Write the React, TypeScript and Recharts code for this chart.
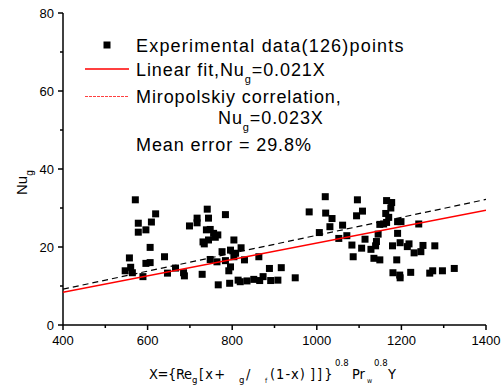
import { ScatterChart, Scatter, XAxis, YAxis } from 'recharts';

// experimental points
const X_VALS = [
  571, 619, 578, 609, 578, 596, 606, 557, 596, 606, 640, 547, 560, 564, 589, 647,
  666, 685, 687, 729, 699, 717, 717, 741, 744, 784, 739, 748, 731, 744, 756, 766,
  760, 734, 804, 776, 796, 808, 821, 804, 748, 764, 784, 829, 863, 796, 792, 888,
  916, 767, 794, 814, 819, 835, 851, 865, 873, 891, 908, 949, 982, 1006, 1020, 1021,
  1036, 1096, 1108, 1094, 1031, 1061, 1052, 1071, 1114, 1083, 1106, 1086, 1128, 1141, 1139, 1145,
  1149, 1135, 1149, 1165, 1177, 1175, 1163, 1170, 1165, 1158, 1191, 1199, 1191, 1241, 1179, 1197,
  1214, 1218, 1230, 1246, 1251, 1279, 1189, 1180, 1196, 1197, 1222, 1267, 1274, 1297, 1325,
];
const NU_VALS = [
  32.1, 28.5, 26.1, 26.4, 23.8, 24.4, 19.9, 17.2, 15.8, 16.0, 17.5, 13.9, 14.8, 13.4, 12.4, 13.3,
  14.6, 13.4, 12.6, 13.0, 25.4, 27.4, 26.2, 29.7, 27.4, 28.3, 24.4, 24.5, 21.3, 21.8, 23.5, 23.1,
  22.5, 20.8, 21.8, 18.8, 19.2, 18.4, 19.8, 17.5, 16.8, 16.2, 16.5, 16.7, 17.5, 14.9, 13.9, 14.5,
  14.7, 10.3, 10.7, 11.5, 11.1, 11.3, 11.7, 11.4, 12.4, 11.4, 11.5, 12.1, 29.0, 23.7, 32.9, 28.7,
  27.3, 32.1, 29.2, 28.0, 25.2, 25.6, 22.2, 22.9, 22.0, 20.5, 19.7, 17.5, 19.4, 21.4, 20.3, 23.3,
  25.8, 17.1, 16.7, 31.9, 31.4, 30.0, 28.6, 27.6, 26.3, 25.9, 26.5, 26.5, 23.5, 25.9, 20.3, 21.1,
  20.1, 20.8, 18.5, 18.8, 20.4, 20.3, 16.7, 13.4, 12.8, 12.1, 13.5, 13.3, 13.9, 13.9, 14.5,
];

const FIT_X = [400, 1400];
const LINEAR_FIT = [8.4, 29.4]; // Nu_g = 0.021X
const MIROPOLSKIY = [9.2, 32.2]; // Nu_g = 0.023X

const X_TICKS = [400, 500, 600, 700, 800, 900, 1000, 1100, 1200, 1300, 1400];
const Y_TICKS = [0, 10, 20, 30, 40, 50, 60, 70, 80];

const points = X_VALS.map((x, i) => ({ x, y: NU_VALS[i] }));
const linearData = FIT_X.map((x, i) => ({ x, y: LINEAR_FIT[i] }));
const miroData = FIT_X.map((x, i) => ({ x, y: MIROPOLSKIY[i] }));

const FONT = '"Liberation Sans", Arial, sans-serif';
const COND = '"DejaVu Sans Condensed", "DejaVu Sans", sans-serif';

const Square = (p: any) => (
  <rect x={p.cx - 3.5} y={p.cy - 3.5} width={7} height={7} fill="#000" />
);
const Nothing = () => <g />;

const XTick = ({ x, y, payload }: any) => {
  const major = payload.value % 200 === 0;
  return (
    <g>
      <line x1={x} x2={x} y1={y} y2={y + (major ? 5 : 3)} stroke="#000" strokeWidth={1.5} />
      {major && (
        <text x={x} y={y + 19.5} textAnchor="middle" fontSize={13} fontFamily={FONT} fill="#000">
          {payload.value}
        </text>
      )}
    </g>
  );
};

const YTick = ({ x, y, payload }: any) => {
  const major = payload.value % 20 === 0;
  return (
    <g>
      <line x1={x - (major ? 5 : 3)} x2={x} y1={y} y2={y} stroke="#000" strokeWidth={1.5} />
      {major && (
        <text x={x - 9} y={y + 4.5} textAnchor="end" fontSize={13} fontFamily={FONT} fill="#000">
          {payload.value}
        </text>
      )}
    </g>
  );
};

function Overlay() {
  const t = { fontFamily: FONT, fontSize: 18, letterSpacing: 0.9, fill: '#000' };
  const lab = { fontFamily: COND, fontSize: 14.5, fill: '#000' };
  const sub = { fontFamily: COND, fontSize: 9.5, fill: '#000' };
  return (
    <svg width={501} height={385} style={{ position: 'absolute', left: 0, top: 0, pointerEvents: 'none' }}>
      {/* legend */}
      <rect x={103.5} y={41.5} width={7} height={7} fill="#000" />
      <text x={136} y={52} {...t} letterSpacing={1.2}>Experimental data(126)points</text>
      <line x1={85} x2={129} y1={69} y2={69} stroke="#ff0000" strokeWidth={1.3} />
      <text x={136} y={75.5} {...t}>
        Linear fit,Nu<tspan fontSize={11} dy={7}>g</tspan>
        <tspan dy={-7}>=0.021X</tspan>
      </text>
      <line x1={85} x2={129} y1={96.5} y2={96.5} stroke="#ff4040" strokeWidth={1} strokeDasharray="3 1" />
      <text x={136} y={102.5} {...t}>Miropolskiy correlation,</text>
      <text x={218} y={123.5} {...t}>
        Nu<tspan fontSize={11} dy={7}>g</tspan>
        <tspan dy={-7}>=0.023X</tspan>
      </text>
      <text x={136} y={150.5} {...t}>Mean error = 29.8%</text>

      {/* y axis title */}
      <text x={27} y={195} transform="rotate(-90 27 195)" fontFamily={FONT} fontSize={15} fill="#000">
        Nu<tspan fontSize={10} dy={6}>g</tspan>
      </text>

      {/* x axis title */}
      <text y={379} {...lab}>
        <tspan x={149} letterSpacing={-0.4}>X={'{'}Re</tspan>
        <tspan x={192} dy={4} {...sub}>g</tspan>
        <tspan x={199} dy={-4} letterSpacing={1.2}>[x+</tspan>
        <tspan x={239} dy={4} {...sub}>g</tspan>
        <tspan x={246} dy={-4}>/</tspan>
        <tspan x={265} dy={4} fontSize={7}>f</tspan>
        <tspan x={270} dy={-4} letterSpacing={1}>(1-x)</tspan>
        <tspan x={310} letterSpacing={2}>]]{'}'}</tspan>
        <tspan x={335} dy={-13} {...sub}>0.8</tspan>
        <tspan x={352} dy={13}>Pr</tspan>
        <tspan x={367} dy={4} fontSize={7}>w</tspan>
        <tspan x={374} dy={-17} {...sub}>0.8</tspan>
        <tspan x={388} dy={13}>Y</tspan>
      </text>
    </svg>
  );
}

export default function App() {
  return (
    <div style={{ position: 'absolute', left: 0, top: 0, width: 501, height: 385, background: '#fff' }}>
      <ScatterChart width={501} height={385} margin={{ top: 13, right: 15, bottom: 0, left: 0 }}>
        <XAxis
          type="number"
          dataKey="x"
          domain={[400, 1400]}
          ticks={X_TICKS}
          interval={0}
          height={60}
          tickSize={0}
          tickMargin={0}
          tickLine={false}
          axisLine={{ stroke: '#000', strokeWidth: 1.5 }}
          tick={<XTick />}
          allowDataOverflow
        />
        <YAxis
          type="number"
          dataKey="y"
          domain={[0, 80]}
          ticks={Y_TICKS}
          interval={0}
          width={63}
          tickSize={0}
          tickMargin={0}
          tickLine={false}
          axisLine={{ stroke: '#000', strokeWidth: 1.5 }}
          tick={<YTick />}
          allowDataOverflow
        />
        <Scatter data={points} shape={Square} isAnimationActive={false} />
        <Scatter
          data={miroData}
          line={{ stroke: '#000', strokeWidth: 1.2, strokeDasharray: '6 4' }}
          shape={Nothing}
          isAnimationActive={false}
        />
        <Scatter
          data={linearData}
          line={{ stroke: '#ff0000', strokeWidth: 1.5 }}
          shape={Nothing}
          isAnimationActive={false}
        />
      </ScatterChart>
      <Overlay />
    </div>
  );
}
